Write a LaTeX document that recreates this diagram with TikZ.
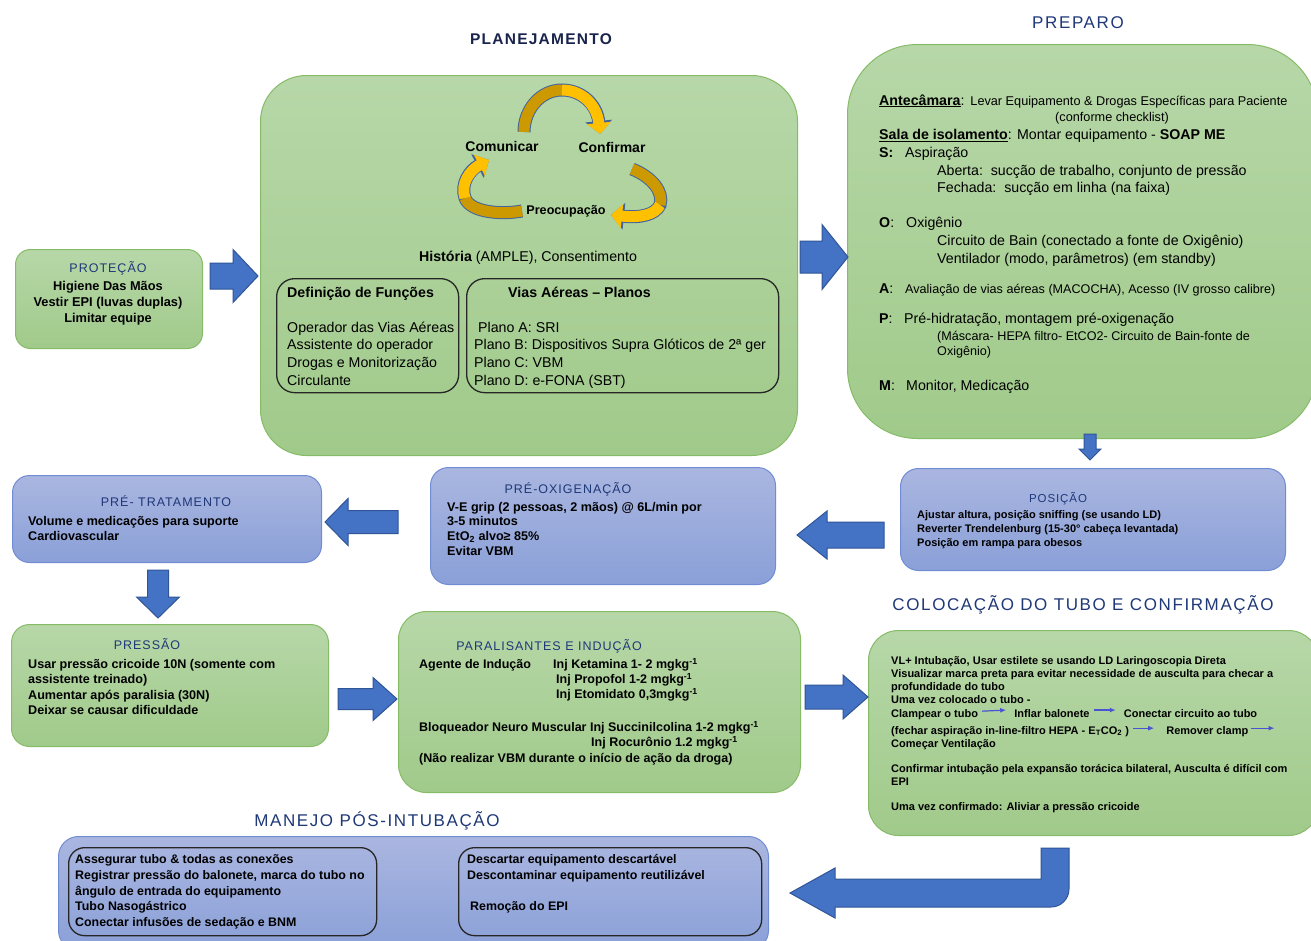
\documentclass[tikz,border=0pt]{standalone}
\usepackage{fontspec}
\setmainfont{Liberation Sans}
\newfontfamily\ttlfont[LetterSpace=8]{Liberation Sans}
\newfontfamily\bigttlfont[LetterSpace=9.5]{Liberation Sans}
\usetikzlibrary{positioning,arrows.meta}
\definecolor{grntop}{RGB}{183,215,168}
\definecolor{grnbot}{RGB}{160,202,138}
\definecolor{grnline}{RGB}{134,188,104}
\definecolor{blutop}{RGB}{170,182,224}
\definecolor{blubot}{RGB}{138,160,216}
\definecolor{bluline}{RGB}{112,140,212}
\definecolor{navy}{RGB}{31,56,120}
\definecolor{darknavy}{RGB}{25,35,75}
\definecolor{arrfill}{RGB}{68,114,196}
\definecolor{arrline}{RGB}{47,85,151}
\definecolor{gold}{RGB}{255,192,0}
\definecolor{golddk}{RGB}{204,153,0}
\definecolor{cycline}{RGB}{65,100,160}
\definecolor{tinyblue}{RGB}{72,84,210}
\newcommand{\fsz}[2]{\fontsize{#1}{#2}\selectfont}
\tikzset{
  gbox/.style={draw=grnline, line width=1pt, top color=grntop,
    bottom color=grnbot, anchor=north west, inner sep=0},
  bbox/.style={draw=bluline, line width=1pt, top color=blutop,
    bottom color=blubot, anchor=north west, inner sep=0},
  inbox/.style={draw=black!85, line width=1.3pt, rounded corners=18pt,
    anchor=north west, inner sep=0},
  ttl/.style={font=\ttlfont\fsz{12.5}{15}, text=navy, inner sep=0, anchor=base},
  bigttl/.style={font=\bigttlfont\fsz{17}{20}, text=navy, inner sep=0, anchor=base},
  ln/.style={inner sep=0, anchor=base west},
  txt/.style={inner sep=0, anchor=north west, align=left},
  barrowstyle/.style={draw=arrline, line width=1pt, fill=arrfill},
  pics/barrow/.style n args={4}{code={
    \draw[barrowstyle] (0,{-#3/2}) -- ({#1-#4},{-#3/2}) -- ({#1-#4},{-#2/2})
      -- (#1,0) -- ({#1-#4},{#2/2}) -- ({#1-#4},{#3/2}) -- (0,{#3/2}) -- cycle;}},
  cycout/.style={draw=cycline, line width=13pt},
  cycdk/.style={draw=golddk, line width=11pt},
  cycyl/.style={draw=gold, line width=11pt},
  tinyarr/.style={draw=tinyblue, line width=1.2pt, -{Latex[length=6pt,width=5pt]}},
}
\begin{document}
\begin{tikzpicture}[x=1pt,y=-1pt]
\useasboundingbox (0,0) rectangle (1311,940);
\fill[white] (0,0) rectangle (1311,940);

% boxes
\node[gbox, minimum width=187pt, minimum height=99pt, rounded corners=15pt] (prot) at (15,249) {};
\node[gbox, minimum width=537pt, minimum height=380pt, rounded corners=46pt] (plan) at (260,75) {};
\node[inbox, minimum width=182pt, minimum height=114pt] (funcs) at (276,278) {};
\node[inbox, minimum width=312pt, minimum height=114pt] (planos) at (466,278) {};
\node[gbox, minimum width=470pt, minimum height=394pt, rounded corners=70pt] (prep) at (847,44) {};
\node[bbox, minimum width=385pt, minimum height=102pt, rounded corners=18pt] (pos) at (900,468) {};
\node[bbox, minimum width=345pt, minimum height=117pt, rounded corners=18pt] (preox) at (430,467) {};
\node[bbox, minimum width=309pt, minimum height=87pt, rounded corners=17pt] (pretr) at (12,475) {};
\node[gbox, minimum width=317pt, minimum height=122pt, rounded corners=18pt] (press) at (11,624) {};
\node[gbox, minimum width=402pt, minimum height=181pt, rounded corners=28pt] (paral) at (398,611) {};
\node[gbox, minimum width=450pt, minimum height=205pt, rounded corners=30pt] (coloc) at (868,630) {};
\node[bbox, minimum width=710pt, minimum height=114pt, rounded corners=20pt] (manejo) at (58,836) {};
\node[inbox, minimum width=308pt, minimum height=88pt, rounded corners=16pt] (manl) at (68,847) {};
\node[inbox, minimum width=303pt, minimum height=88pt, rounded corners=16pt] (manr) at (458,847) {};

% block arrows
\pic at (210,276) {barrow={48}{53}{26}{25}};
\pic at (800,257) {barrow={48}{65}{32}{26}};
\pic[rotate=-90] at (1090,434) {barrow={26}{22}{12}{11}};
\pic[rotate=180] at (884,535) {barrow={87}{48}{26}{30}};
\pic[rotate=180] at (398,522) {barrow={73}{47}{23}{23}};
\pic[rotate=-90] at (158,570) {barrow={48}{43}{21}{21}};
\pic at (338,699) {barrow={59}{43}{21}{24}};
\pic at (805,697) {barrow={63}{44}{24}{25}};
\draw[barrowstyle] (1041,848) -- (1069,848) -- (1069,889)
  arc[start angle=0, end angle=90, radius=18] -- (835,907) -- (835,918)
  -- (790,893) -- (835,868) -- (835,879) -- (1041,879) -- cycle;

% titles
\node[ttl, font=\ttlfont\bfseries\fsz{15.5}{18}, text=darknavy] (plant) at (541,44.5) {PLANEJAMENTO};
\node[bigttl] (prept) at (1078,28) {PREPARO};
\node[bigttl] (colt) at (1083,610) {COLOCAÇÃO DO TUBO E CONFIRMAÇÃO};
\node[bigttl] (mant) at (377,826) {MANEJO PÓS-INTUBAÇÃO};
\node[ttl] (prott) at (108,272.5) {PROTEÇÃO};
\node[ttl] (pretrt) at (166,506.5) {PRÉ- TRATAMENTO};
\node[ttl] (presst) at (147,649.5) {PRESSÃO};
\node[ttl] (preoxt) at (568,493.5) {PRÉ-OXIGENAÇÃO};
\node[ttl, font=\ttlfont\fsz{11.5}{14}] (post) at (1058,502) {POSIÇÃO};
\node[ttl] (paralt) at (549,650.5) {PARALISANTES E INDUÇÃO};

% protecao
\node[inner sep=0, anchor=north, align=center, font=\bfseries\fsz{12.8}{16}] (protl)
  at (108,279) {\strut Higiene Das Mãos\\Vestir EPI (luvas duplas)\\Limitar equipe};

% planejamento
\draw[cycout, -{Triangle[width=26pt,length=13pt]}] (524,132) .. controls (524,110) and (540,90) .. (562,90)
  .. controls (582,90) and (597,105) .. (600,134);
\draw[cycdk] (524,132) .. controls (524,110) and (540,90) .. (562,90);
\draw[cycyl, -{Triangle[width=23pt,length=11pt]}] (562,90) .. controls (582,90) and (597,105) .. (600,134);
\draw[cycout, -{Triangle[width=26pt,length=13pt]}] (522,211) .. controls (500,215) and (470,212) .. (465,198)
  .. controls (460,184) and (470,170) .. (489,160);
\draw[cycdk] (522,211) .. controls (500,215) and (470,212) .. (465,198);
\draw[cycyl, -{Triangle[width=23pt,length=11pt]}] (465,198) .. controls (460,184) and (470,170) .. (489,160);
\draw[cycout, -{Triangle[width=26pt,length=13pt]}] (632,169) .. controls (652,177) and (664,192) .. (660,205)
  .. controls (655,215) and (640,218) .. (611,215);
\draw[cycdk] (632,169) .. controls (652,177) and (664,192) .. (660,205);
\draw[cycyl, -{Triangle[width=23pt,length=11pt]}] (660,205) .. controls (655,215) and (640,218) .. (611,215);
\node[font=\bfseries\fsz{14}{17}, inner sep=0] (com) at (502,146) {Comunicar};
\node[font=\bfseries\fsz{14}{17}, inner sep=0] (conf) at (612,147) {Confirmar};
\node[font=\bfseries\fsz{12.6}{15}, inner sep=0] (preoc) at (566,211) {Preocupação};
\node[inner sep=0, anchor=base, font=\fsz{14.2}{17.6}] (hist) at (528,261)
  {\textbf{História} (AMPLE), Consentimento};
\node[ln, font=\bfseries\fsz{14.2}{17.6}] (deft) at (287,297) {Definição de Funções};
\node[txt, font=\fsz{14.2}{17.6}] (defl) at (287,319.7)
  {\strut Operador das Vias Aéreas\\Assistente do operador\\Drogas e Monitorização\\Circulante};
\node[ln, font=\bfseries\fsz{14.2}{17.6}] (viat) at (508,297) {Vias Aéreas – Planos};
\node[txt, font=\fsz{14.2}{17.6}] (vial) at (474,319.7)
  {\strut\hspace*{4pt}Plano A: SRI\\Plano B: Dispositivos Supra Glóticos de 2ª ger\\Plano C: VBM\\Plano D: e-FONA (SBT)};

% preparo
\begin{scope}[every node/.style={ln, font=\fsz{14.2}{17.5}}]
\node (pr1) at (879,105) {\textbf{\underline{Antecâmara}}:\hspace{6pt}{\fsz{12.7}{15}Levar Equipamento \& Drogas Específicas para Paciente}};
\node (pr2) at (1055,121.5) {\fsz{12.7}{15}(conforme checklist)};
\node (pr3) at (879,139.5) {\textbf{\underline{Sala de isolamento}}: Montar equipamento - \textbf{SOAP ME}};
\node (pr4) at (879,157.5) {\makebox[26pt][l]{\textbf{S:}}Aspiração};
\node (pr5) at (937,175.5) {Aberta:\ \ sucção de trabalho, conjunto de pressão};
\node (pr6) at (937,192.5) {Fechada:\ \ sucção em linha (na faixa)};
\node (pr7) at (879,227) {\makebox[27pt][l]{\textbf{O}:}Oxigênio};
\node (pr8) at (937,245) {Circuito de Bain (conectado a fonte de Oxigênio)};
\node (pr9) at (937,263) {Ventilador (modo, parâmetros) (em standby)};
\node (pr10) at (879,293.5) {\makebox[26pt][l]{\textbf{A}:}{\fsz{12.6}{15}Avaliação de vias aéreas (MACOCHA), Acesso (IV grosso calibre)}};
\node (pr11) at (879,323) {\makebox[25pt][l]{\textbf{P}:}Pré-hidratação, montagem pré-oxigenação};
\node (pr12) at (937,340.5) {\fsz{12.6}{15}(Máscara- HEPA filtro- EtCO2- Circuito de Bain-fonte de};
\node (pr13) at (937,355.5) {\fsz{12.6}{15}Oxigênio)};
\node (pr14) at (879,390) {\makebox[27pt][l]{\textbf{M}:}Monitor, Medicação};
\end{scope}

% posicao, pre-oxigenacao, pre-tratamento, pressao
\node[txt, font=\bfseries\fsz{11}{14}] (posl) at (917,508.2)
  {\strut Ajustar altura, posição sniffing (se usando LD)\\Reverter Trendelenburg (15-30° cabeça levantada)\\Posição em rampa para obesos};
\node[txt, font=\bfseries\fsz{12.6}{14.8}] (preoxl) at (447,500.6)
  {\strut V-E grip (2 pessoas, 2 mãos) @ 6L/min por\\3-5 minutos\\EtO\textsubscript{2} alvo≥ 85\%\\Evitar VBM};
\node[txt, font=\bfseries\fsz{12.6}{15.5}] (pretrl) at (28,514.2)
  {\strut Volume e medicações para suporte\\Cardiovascular};
\node[txt, font=\bfseries\fsz{12.6}{15.6}] (pressl) at (28,656.9)
  {\strut Usar pressão cricoide 10N (somente com\\assistente treinado)\\Aumentar após paralisia (30N)\\Deixar se causar dificuldade};

% paralisantes
\begin{scope}[every node/.style={ln, font=\bfseries\fsz{12.5}{15}}]
\node (pa1) at (419,668.5) {Agente de Indução};
\node (pa2) at (553,668.5) {Inj Ketamina 1- 2 mgkg\textsuperscript{-1}};
\node (pa3) at (556,683.5) {Inj Propofol 1-2 mgkg\textsuperscript{-1}};
\node (pa4) at (556,698.5) {Inj Etomidato 0,3mgkg\textsuperscript{-1}};
\node (pa5) at (419,731.5) {Bloqueador Neuro Muscular Inj Succinilcolina 1-2 mgkg\textsuperscript{-1}};
\node (pa6) at (591,746.5) {Inj Rocurônio 1.2 mgkg\textsuperscript{-1}};
\node (pa7) at (419,762.5) {(Não realizar VBM durante o início de ação da droga)};
\end{scope}

% colocacao
\begin{scope}[every node/.style={font=\bfseries\fsz{11}{13}}]
\node[txt] (co1) at (891,654.9)
  {\strut VL+ Intubação, Usar estilete se usando LD Laringoscopia Direta\\Visualizar marca preta para evitar necessidade de ausculta para checar a\\profundidade do tubo\\Uma vez colocado o tubo -};
\node[ln] (clamp) at (891,717) {Clampear o tubo};
\node[ln, base right=36pt of clamp] (inflar) {Inflar balonete};
\node[ln, base right=34pt of inflar] (conect) {Conectar circuito ao tubo};
\node[ln] (fechar) at (891,734) {(fechar aspiração in-line-filtro HEPA - E\textsubscript{T}CO\textsubscript{2} )};
\node[ln, base right=37pt of fechar] (remov) {Remover clamp};
\coordinate (remend) at ([xshift=26pt,yshift=3pt]remov.east);
\node[ln] (comec) at (891,747) {Começar Ventilação};
\node[txt] (co2) at (891,762.9)
  {\strut Confirmar intubação pela expansão torácica bilateral, Ausculta é difícil com\\EPI};
\node[ln] (co3) at (891,810) {Uma vez confirmado: Aliviar a pressão cricoide};
\end{scope}
\draw[tinyarr] ([xshift=4pt,yshift=3pt]clamp.east) -- ([xshift=-8pt,yshift=3pt]inflar.west);
\draw[tinyarr] ([xshift=4pt,yshift=3pt]inflar.east) -- ([xshift=-8pt,yshift=3pt]conect.west);
\draw[tinyarr] ([xshift=4pt,yshift=3pt]fechar.east) -- ([xshift=-12pt,yshift=3pt]remov.west);
\draw[tinyarr] ([xshift=2pt,yshift=3pt]remov.east) -- (remend);

% manejo
\node[txt, font=\bfseries\fsz{12.4}{15.7}] (manll) at (75,852.5)
  {\strut Assegurar tubo \& todas as conexões\\Registrar pressão do balonete, marca do tubo no\\ângulo de entrada do equipamento\\Tubo Nasogástrico\\Conectar infusões de sedação e BNM};
\node[txt, font=\bfseries\fsz{12.4}{15.7}] (manrl) at (467,852.5)
  {\strut Descartar equipamento descartável\\Descontaminar equipamento reutilizável\\[15.7pt]\hspace*{3pt}Remoção do EPI};
\end{tikzpicture}
\end{document}
